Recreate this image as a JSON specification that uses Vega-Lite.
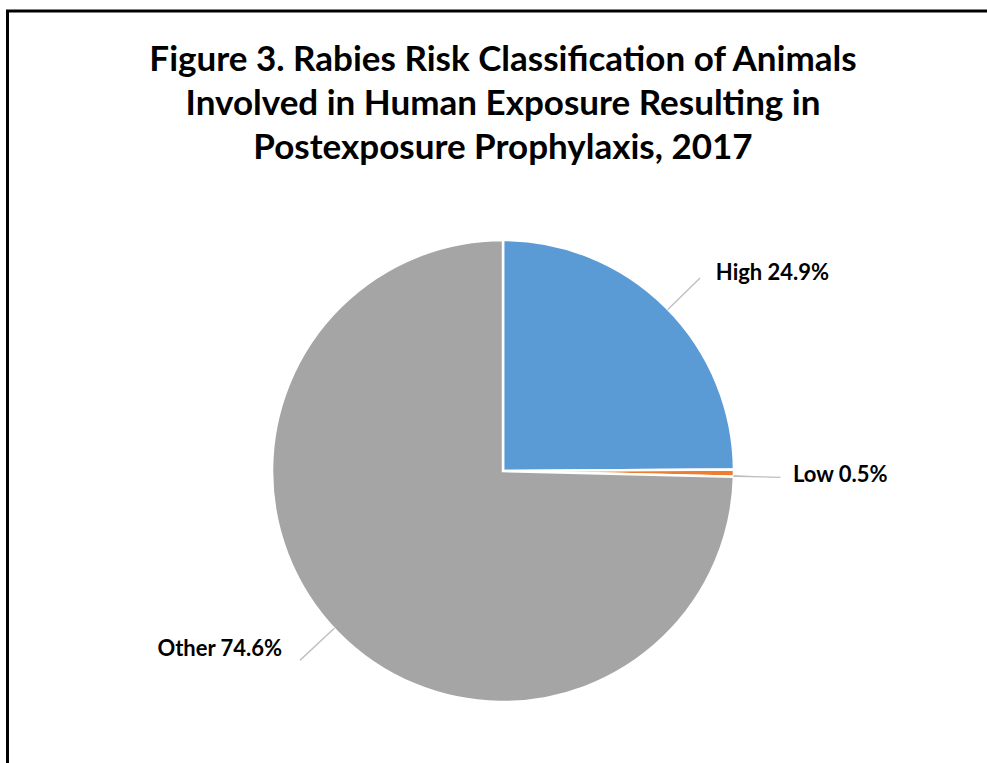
{
  "$schema": "https://vega.github.io/schema/vega-lite/v6.json",
  "autosize": "none",
  "padding": {"left": 7.5, "top": 11, "right": 0, "bottom": 0},
  "width": 991,
  "height": 920,
  "background": "white",
  "view": {"stroke": "#000000", "strokeWidth": 3},
  "config": {"view": {"stroke": "#000000", "strokeWidth": 3}},
  "title": {
    "text": ["Figure 3. Rabies Risk Classification of Animals", "Involved in Human Exposure Resulting in", "Postexposure Prophylaxis, 2017"],
    "font": "Lato",
    "fontSize": 35,
    "fontWeight": "bold",
    "lineHeight": 44,
    "color": "#000000",
    "anchor": "middle",
    "frame": "bounds",
    "offset": -155
  },
  "data": {
    "values": [
      {"cat": "High", "value": 24.9, "label": "High 24.9%"},
      {"cat": "Low", "value": 0.5, "label": "Low 0.5%"},
      {"cat": "Other", "value": 74.6, "label": "Other 74.6%"}
    ]
  },
  "layer": [
    {
      "mark": {"type": "arc", "outerRadius": 231, "stroke": "#ffffff", "strokeWidth": 2.5},
      "encoding": {
        "theta": {"field": "value", "type": "quantitative", "stack": true},
        "order": {"field": "cat", "type": "nominal", "sort": "ascending"},
        "color": {"field": "cat", "type": "nominal", "scale": {"domain": ["High", "Low", "Other"], "range": ["#5B9BD5", "#ED7D31", "#A5A5A5"]}, "legend": null}
      }
    },
    {
      "transform": [{"stack": "value", "groupby": [], "as": ["v0", "v1"], "sort": [{"field": "cat", "order": "ascending"}]}],
      "mark": {"type": "arc", "innerRadius": 231, "outerRadius": 275, "thetaOffset": 0.7959, "theta2Offset": -0.7686, "fillOpacity": 0, "stroke": "#BFBFBF", "strokeWidth": 1.3},
      "encoding": {
        "theta": {"field": "v0", "type": "quantitative", "stack": null},
        "theta2": {"field": "v1"},
        "strokeOpacity": {"condition": {"test": "datum.cat === 'High'", "value": 1}, "value": 0}
      }
    },
    {
      "transform": [{"stack": "value", "groupby": [], "as": ["v0", "v1"], "sort": [{"field": "cat", "order": "ascending"}]}],
      "mark": {"type": "arc", "innerRadius": 231, "outerRadius": 277, "thetaOffset": 0.029, "theta2Offset": -0.00244, "fillOpacity": 0, "stroke": "#BFBFBF", "strokeWidth": 1.3},
      "encoding": {
        "theta": {"field": "v0", "type": "quantitative", "stack": null},
        "theta2": {"field": "v1"},
        "strokeOpacity": {"condition": {"test": "datum.cat === 'Low'", "value": 1}, "value": 0}
      }
    },
    {
      "transform": [{"stack": "value", "groupby": [], "as": ["v0", "v1"], "sort": [{"field": "cat", "order": "ascending"}]}],
      "mark": {"type": "arc", "innerRadius": 231, "outerRadius": 277, "thetaOffset": 2.366, "theta2Offset": -2.3213, "fillOpacity": 0, "stroke": "#BFBFBF", "strokeWidth": 1.3},
      "encoding": {
        "theta": {"field": "v0", "type": "quantitative", "stack": null},
        "theta2": {"field": "v1"},
        "strokeOpacity": {"condition": {"test": "datum.cat === 'Other'", "value": 1}, "value": 0}
      }
    },
    {
      "mark": {"type": "text", "radius": 275, "align": "left", "baseline": "middle", "dx": 19, "dy": -3, "font": "Lato", "fontSize": 22, "fontWeight": "bold", "color": "#000000"},
      "encoding": {
        "theta": {"field": "value", "type": "quantitative", "stack": true},
        "order": {"field": "cat", "type": "nominal", "sort": "ascending"},
        "text": {"condition": {"test": "datum.cat === 'High'", "field": "label"}, "value": ""}
      }
    },
    {
      "mark": {"type": "text", "radius": 290, "align": "left", "baseline": "middle", "dx": 0, "dy": 1, "font": "Lato", "fontSize": 22, "fontWeight": "bold", "color": "#000000"},
      "encoding": {
        "theta": {"field": "value", "type": "quantitative", "stack": true},
        "order": {"field": "cat", "type": "nominal", "sort": "ascending"},
        "text": {"condition": {"test": "datum.cat === 'Low'", "field": "label"}, "value": ""}
      }
    },
    {
      "mark": {"type": "text", "radius": 275, "align": "right", "baseline": "middle", "dx": -24, "dy": -14, "font": "Lato", "fontSize": 22, "fontWeight": "bold", "color": "#000000"},
      "encoding": {
        "theta": {"field": "value", "type": "quantitative", "stack": true},
        "order": {"field": "cat", "type": "nominal", "sort": "ascending"},
        "text": {"condition": {"test": "datum.cat === 'Other'", "field": "label"}, "value": ""}
      }
    }
  ]
}
